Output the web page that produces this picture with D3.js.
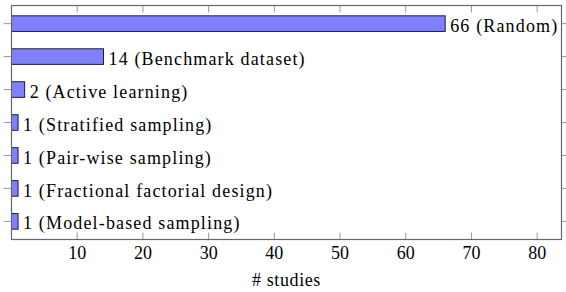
<!DOCTYPE html>
<html>
<head>
  <meta charset="utf-8">
  <title>Sampling strategies</title>
  <style>
    body {
      margin: 0;
      padding: 0;
      background: white;
    }
    .bar {
      fill: #8080ff;
      stroke: #1c1c40;
      stroke-width: 1;
    }
    .frame {
      fill: none;
      stroke: #666;
      stroke-width: 1.2;
    }
    .tick-mark {
      stroke: #999;
      stroke-width: 1;
    }
    .label {
      font-size: 18px;
      fill: #000;
      letter-spacing: 1.15px;
    }
    .tick-label {
      font-size: 18px;
      fill: #000;
      text-anchor: middle;
    }
  </style>
</head>
<body>
  <div id="chart"></div>

  <script src="https://d3js.org/d3.v7.min.js"></script>
  <script>
    // data
    var strategies = ["Random", "Benchmark dataset", "Active learning", "Stratified sampling",
                      "Pair-wise sampling", "Fractional factorial design", "Model-based sampling"]
    var counts = [66, 14, 2, 1, 1, 1, 1]
    var xTicks = [10, 20, 30, 40, 50, 60, 70, 80]
    var xLabel = "# studies"

    var width = 566,
        height = 292

    // plot box (not called "top", that one belongs to window)
    var boxL = 11.5, boxR = 561.5, boxT = 5.5, boxB = 239.5

    var svg = d3.select("#chart")
      .append("svg")
      .attr("width", width)
      .attr("height", height)
      .attr("font-family", "Liberation Serif, serif")

    var x = d3.scaleLinear()
      .domain([0, 83.7])
      .range([boxL, boxR])

    var y = d3.scalePoint()
      .domain(strategies)
      .range([boxT, boxB])
      .padding(0.55)

    var barH = 15.6

    var rows = strategies.map(function (s, i) {
      return { name: s, count: counts[i] }
    })

    // y ticks, outside on both sides
    var yt = svg.append("g")
    yt.selectAll("line.l")
      .data(strategies).enter().append("line")
      .attr("class", "tick-mark")
      .attr("x1", boxL - 8).attr("x2", boxL)
      .attr("y1", function (d) { return y(d) })
      .attr("y2", function (d) { return y(d) })
    yt.selectAll("line.r")
      .data(strategies).enter().append("line")
      .attr("class", "tick-mark")
      .attr("x1", boxR).attr("x2", boxR + 8)
      .attr("y1", function (d) { return y(d) })
      .attr("y2", function (d) { return y(d) })

    // x ticks, inside at top and bottom
    var xt = svg.append("g")
    xt.selectAll("line.b")
      .data(xTicks).enter().append("line")
      .attr("class", "tick-mark")
      .attr("x1", x).attr("x2", x)
      .attr("y1", boxB).attr("y2", boxB - 7)
    xt.selectAll("line.t")
      .data(xTicks).enter().append("line")
      .attr("class", "tick-mark")
      .attr("x1", x).attr("x2", x)
      .attr("y1", boxT).attr("y2", boxT + 7)

    xt.selectAll("text")
      .data(xTicks).enter().append("text")
      .attr("class", "tick-label")
      .attr("x", x)
      .attr("y", boxB + 19)
      .text(function (d) { return d })

    // bars
    svg.append("g")
      .selectAll("rect")
      .data(rows).enter().append("rect")
      .attr("class", "bar")
      .attr("x", x(0))
      .attr("y", function (d) { return y(d.name) - barH / 2 })
      .attr("width", function (d) { return x(d.count) - x(0) })
      .attr("height", barH)

    // value labels
    svg.append("g")
      .selectAll("text")
      .data(rows).enter().append("text")
      .attr("class", "label")
      .attr("x", function (d) { return x(d.count) + 5 })
      .attr("y", function (d) { return y(d.name) })
      .attr("dy", "0.45em")
      .text(function (d) { return d.count + " (" + d.name + ")" })

    // frame on top
    svg.append("rect")
      .attr("class", "frame")
      .attr("x", boxL).attr("y", boxT)
      .attr("width", boxR - boxL).attr("height", boxB - boxT)

    svg.append("text")
      .attr("class", "tick-label")
      .attr("x", (boxL + boxR) / 2)
      .attr("y", 285.5)
      .attr("letter-spacing", "0.6px")
      .text(xLabel)
  </script>
</body>
</html>
